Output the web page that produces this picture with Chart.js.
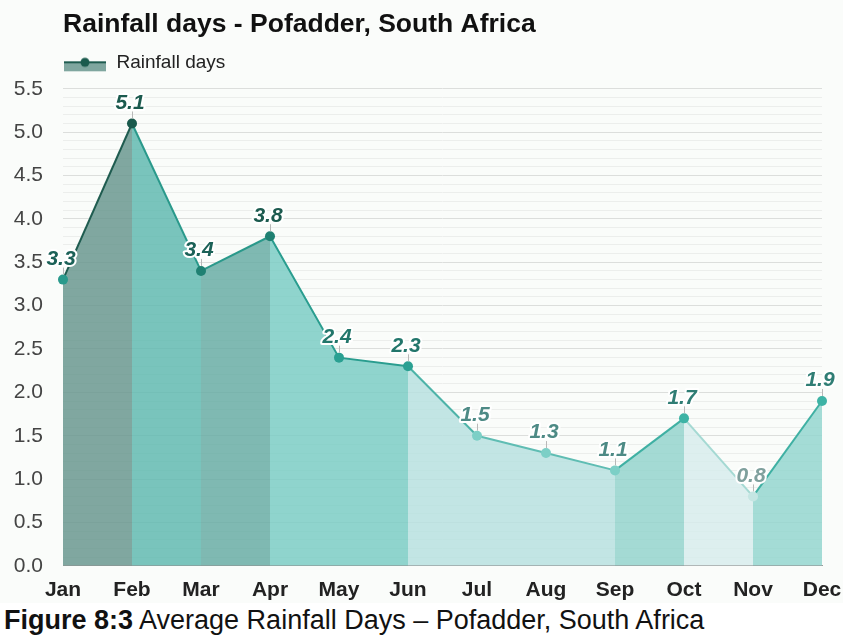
<!DOCTYPE html>
<html>
<head>
<meta charset="utf-8">
<script src="https://cdn.jsdelivr.net/npm/chart.js@4"></script>
<style>
  html, body { margin: 0; padding: 0; background: #ffffff; overflow: hidden; }
  #wrap { position: relative; width: 843px; height: 603px; background: #fafcfa; }
  #caption {
    font-family: 'Liberation Sans', Arial, sans-serif;
    font-size: 27px; color: #111; padding-left: 4px; line-height: 34px;
  }
  #caption b { font-weight: bold; }
</style>
</head>
<body>
<div id="wrap"><canvas id="rain" width="843" height="603"></canvas></div>
<div id="caption"><b>Figure 8:3</b> Average Rainfall Days – Pofadder, South Africa</div>
<script>
// data
const months = ['Jan', 'Feb', 'Mar', 'Apr', 'May', 'Jun', 'Jul', 'Aug', 'Sep', 'Oct', 'Nov', 'Dec'];
const rainfallDays = [3.3, 5.1, 3.4, 3.8, 2.4, 2.3, 1.5, 1.3, 1.1, 1.7, 0.8, 1.9];
const yMin = 0;
const yMax = 5.5;

// styles per segment / point (fills slightly see-through so the grid shows)
const segFill = [
    'rgba(106,152,143,0.85)', 'rgba(98,186,176,0.85)', 'rgba(105,173,164,0.85)',
    'rgba(123,204,196,0.85)', 'rgba(123,204,196,0.85)', 'rgba(183,224,223,0.85)',
    'rgba(183,224,223,0.85)', 'rgba(183,224,223,0.85)', 'rgba(148,212,205,0.85)',
    'rgba(215,236,236,0.85)', 'rgba(148,214,207,0.85)'
];
const segLine = ['#1f5c50', '#2a998b', '#2a998b', '#2a9d8f', '#2a9d8f', '#4db3a8', '#5fbdb3', '#5fbdb3', '#3fb0a3', '#a5d9d3', '#3fb0a3'];
const pointColors = ['#2a9a8c', '#1a5a4d', '#1f8072', '#1f8072', '#2aa092', '#2aa092', '#7ccfc6', '#7ccfc6', '#7ccfc6', '#3db3a5', '#c5e6e3', '#3db3a5'];
const labelColors = ['#1b6157', '#1b5a4e', '#1b6157', '#1b5a4e', '#22766b', '#22766b', '#4d8a85', '#4d8a85', '#4d8a85', '#2f7d74', '#7fa09d', '#2f7d74'];

// legend icon: filled box with line + dot on top
const icon = document.createElement('canvas');
icon.width = 44; icon.height = 20;
(function () {
    const c = icon.getContext('2d');
    c.fillStyle = '#7fa69f';
    c.fillRect(1, 10, 42, 9);
    c.strokeStyle = '#1f5c50';
    c.lineWidth = 2;
    c.beginPath(); c.moveTo(1, 10); c.lineTo(43, 10); c.stroke();
    c.fillStyle = '#1a5a4d';
    c.beginPath(); c.arc(22, 10, 4.5, 0, Math.PI * 2); c.fill();
})();

// value labels with white halo and small tick line
const valueLabels = {
    id: 'valueLabels',
    afterDatasetsDraw(chart) {
        const ctx = chart.ctx;
        const meta = chart.getDatasetMeta(0);
        ctx.save();
        ctx.font = 'italic bold 21px "Liberation Sans", Arial, sans-serif';
        ctx.textAlign = 'center';
        ctx.textBaseline = 'bottom';
        ctx.lineJoin = 'round';
        meta.data.forEach((pt, i) => {
            ctx.strokeStyle = '#b8b8b8';
            ctx.lineWidth = 1;
            ctx.beginPath();
            ctx.moveTo(pt.x + 0.5, pt.y - 5);
            ctx.lineTo(pt.x + 0.5, pt.y - 12);
            ctx.stroke();
            const txt = rainfallDays[i].toFixed(1);
            ctx.strokeStyle = '#ffffff';
            ctx.lineWidth = 4;
            ctx.strokeText(txt, pt.x - 2, pt.y - 10);
            ctx.fillStyle = labelColors[i];
            ctx.fillText(txt, pt.x - 2, pt.y - 10);
        });
        ctx.restore();
    }
};

// extra room under the legend
const legendGap = {
    id: 'legendGap',
    beforeInit(chart) {
        const fit = chart.legend.fit;
        chart.legend.fit = function () {
            fit.bind(chart.legend)();
            this.height += 7;
        };
    }
};

new Chart(document.getElementById('rain').getContext('2d'), {
    type: 'line',
    data: {
        labels: months,
        datasets: [{
            label: 'Rainfall days',
            data: rainfallDays,
            fill: 'origin',
            tension: 0,
            borderWidth: 2,
            pointRadius: 5,
            pointHoverRadius: 5,
            pointBorderWidth: 0,
            pointBackgroundColor: pointColors,
            backgroundColor: segFill[0],
            borderColor: '#2a9d8f',
            segment: {
                backgroundColor: c => segFill[c.p0DataIndex],
                borderColor: c => segLine[c.p0DataIndex]
            }
        }]
    },
    options: {
        responsive: false,
        animation: false,
        layout: { padding: { left: 0, right: 0, top: 9, bottom: -12 } },
        plugins: {
            title: {
                display: true,
                text: 'Rainfall days - Pofadder, South Africa',
                align: 'start',
                fullSize: false,
                color: '#111',
                font: { size: 26.5, weight: 'bold', family: '"Liberation Sans", Arial, sans-serif' },
                padding: { top: 0, bottom: 12 }
            },
            legend: {
                display: true,
                position: 'top',
                align: 'start',
                fullSize: false,
                labels: {
                    usePointStyle: true,
                    pointStyle: icon,
                    pointStyleWidth: 44,
                    color: '#222',
                    font: { size: 19, family: '"Liberation Sans", Arial, sans-serif' },
                    padding: 0
                }
            },
            tooltip: { enabled: false }
        },
        scales: {
            x: {
                offset: false,
                grid: { display: false, drawTicks: false },
                border: { display: true, color: '#9a9a9a', width: 1 },
                afterFit: s => { s.paddingLeft = 0; s.paddingRight = 21; },
                ticks: {
                    color: '#222',
                    padding: 12,
                    maxRotation: 0,
                    autoSkip: false,
                    font: { size: 21, weight: 'bold', family: '"Liberation Sans Narrow", "Liberation Sans", Arial, sans-serif' }
                }
            },
            y: {
                min: yMin,
                max: yMax,
                afterFit: s => { s.width = 63; },
                grid: {
                    drawTicks: false,
                    color: c => (Math.round(c.tick.value * 10) % 5 === 0 ? '#dcdedc' : '#eceeec'),
                    lineWidth: 1
                },
                border: { display: false },
                ticks: {
                    stepSize: 0.1,
                    autoSkip: false,
                    maxTicksLimit: 100,
                    padding: 20,
                    color: '#444',
                    font: { size: 21, family: '"Liberation Sans", Arial, sans-serif' },
                    callback: v => (Math.round(v * 10) % 5 === 0 ? v.toFixed(1) : '')
                }
            }
        }
    },
    plugins: [valueLabels, legendGap]
});
</script>
</body>
</html>
